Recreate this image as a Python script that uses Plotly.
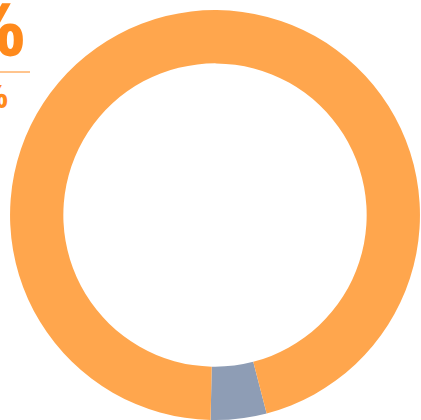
import plotly.graph_objects as go

# slice data
labels = ["Other", "Main"]
values = [4.4, 95.6]
colors = ["#8E9DB5", "#FFA64D"]

# headline numbers (partly off canvas in the original)
big_text = "96%"
small_text = "4%"

fig = go.Figure()
fig.add_trace(go.Pie(
    labels=labels, values=values,
    hole=0.74, sort=False, direction="clockwise", rotation=165.4,
    marker=dict(colors=colors, line=dict(width=0)),
    textinfo="none", hoverinfo="label+percent", showlegend=False,
    domain=dict(x=[0.0214, 1.0], y=[0.0, 0.976]),
))

orange = "#FF8A1C"
fig.add_annotation(text=big_text, xref="paper", yref="paper",
                   x=27 / 421, y=1 - 28 / 420, xanchor="right", yanchor="middle",
                   showarrow=False,
                   font=dict(family="Open Sans", size=74, color=orange, weight="bold"))
fig.add_annotation(text=small_text, xref="paper", yref="paper",
                   x=10 / 421, y=1 - 96 / 420, xanchor="right", yanchor="middle",
                   showarrow=False,
                   font=dict(family="Open Sans", size=32, color=orange, weight="bold"))
fig.add_shape(type="line", xref="paper", yref="paper",
              x0=-0.2, x1=30 / 421, y0=1 - 72 / 420, y1=1 - 72 / 420,
              line=dict(color=orange, width=1))

fig.update_layout(width=421, height=420, margin=dict(l=0, r=0, t=0, b=0),
                  paper_bgcolor="white", plot_bgcolor="white")
# drop the default page margin so the chart sits at the window corner
fig.write_html("out.html", config={"displayModeBar": False},
               post_script="document.body.style.margin='0';")
